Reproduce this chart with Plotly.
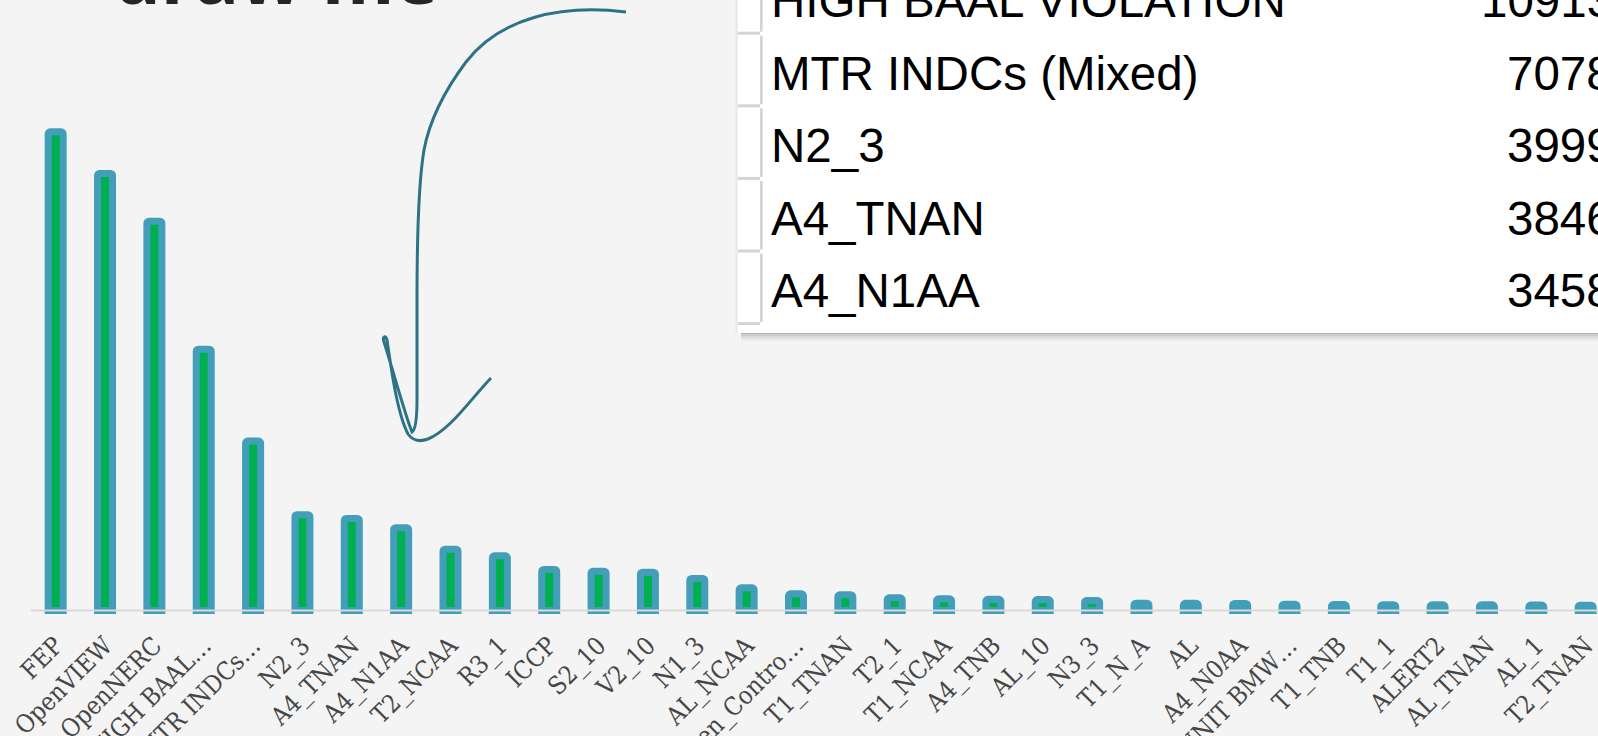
import plotly.graph_objects as go

# ---------------- data ----------------
categories = ["FEP", "OpenVIEW", "OpenNERC", "HIGH BAAL VIOLATION", "MTR INDCs (Mixed)",
              "N2_3", "A4_TNAN", "A4_N1AA", "T2_NCAA", "R3_1", "ICCP", "S2_10", "V2_10",
              "N1_3", "AL_NCAA", "Gen_Contro…", "T1_TNAN", "T2_1", "T1_NCAA", "A4_TNB",
              "AL_10", "N3_3", "T1_N_A", "AL", "A4_N0AA", "UNIT BMW…", "T1_TNB", "T1_1",
              "ALERT2", "AL_TNAN", "AL_1", "T2_TNAN"]
tick_labels = ["FEP", "OpenVIEW", "OpenNERC", "HIGH BAAL…", "MTR INDCs…",
               "N2_3", "A4_TNAN", "A4_N1AA", "T2_NCAA", "R3_1", "ICCP", "S2_10", "V2_10",
               "N1_3", "AL_NCAA", "Gen_Contro…", "T1_TNAN", "T2_1", "T1_NCAA", "A4_TNB",
               "AL_10", "N3_3", "T1_N_A", "AL", "A4_N0AA", "UNIT BMW…", "T1_TNB", "T1_1",
               "ALERT2", "AL_TNAN", "AL_1", "T2_TNAN"]
counts = [19996, 18254, 16262, 10913, 7078, 3999, 3846, 3458, 2561, 2285, 1713, 1642,
          1600, 1337, 948, 698, 656, 530, 489, 465, 455, 418, 305, 300, 292, 265, 250,
          240, 238, 235, 225, 220]

table_labels = ["HIGH BAAL VIOLATION", "MTR INDCs (Mixed)", "N2_3", "A4_TNAN", "A4_N1AA"]
table_values = ["10913", "7078", "3999", "3846", "3458"]

title_text = "draw me"

# ---------------- layout geometry (pixels) ----------------
W, H = 1598, 736
ML, MR, MT, MB = 31, 0, 10, 120
PW, PH = W - ML - MR, H - MT - MB
PX_PER_UNIT = 0.02394
BASE_PX = 610.5  # pixel row of value 0
y_top = (BASE_PX - MT) / PX_PER_UNIT
y_bot = -(H - MB - BASE_PX) / PX_PER_UNIT

BLUE = "#439FB9"
GREEN = "#00B050"
BG = "#f4f4f4"
ARROW = "#2E7385"


def px(x, y):
    return (x - ML) / PW, 1 - (y - MT) / PH


fig = go.Figure()
fig.add_trace(go.Bar(
    x=categories, y=counts, width=0.304,
    marker=dict(color=GREEN, line=dict(color=BLUE, width=7)),
    hoverinfo="x+y",
))

shapes = []
# axis line drawn above bars
shapes.append(dict(type="line", xref="paper", yref="y", x0=0, x1=1, y0=0, y1=0,
                   line=dict(color="#d9d9d9", width=2), layer="above"))

# table panel shadow + panel
for (y0, y1, op) in [(331, 334, 0.28), (334, 336.5, 0.16), (336.5, 339, 0.08), (339, 341, 0.03)]:
    a = px(741, y0); b = px(W + 5, y1)
    shapes.append(dict(type="rect", xref="paper", yref="paper", x0=a[0], x1=b[0], y0=a[1], y1=b[1],
                       fillcolor=f"rgba(0,0,0,{op})", line=dict(width=0), layer="above"))
a = px(735.5, 0); b = px(737.7, 333)
shapes.append(dict(type="rect", xref="paper", yref="paper", x0=a[0], x1=b[0], y0=a[1], y1=b[1],
                   fillcolor="rgba(0,0,0,0.05)", line=dict(width=0), layer="above"))
a = px(737.7, -5); b = px(W + 5, 333)
shapes.append(dict(type="rect", xref="paper", yref="paper", x0=a[0], x1=b[0], y0=a[1], y1=b[1],
                   fillcolor="#ffffff", line=dict(width=0), layer="above"))

# row header grid
ROW0 = 33.2
ROWH = 72.6
seps = [ROW0 + ROWH * i for i in range(5)]
prev = -5
for s in seps:
    a = px(760, prev + 2.5); b = px(762.7, s - 1.5)
    shapes.append(dict(type="rect", xref="paper", yref="paper", x0=a[0], x1=b[0], y0=a[1], y1=b[1],
                       fillcolor="#d4d4d4", line=dict(width=0), layer="above"))
    a = px(737.7, s - 1.5); b = px(760, s + 1.5)
    shapes.append(dict(type="rect", xref="paper", yref="paper", x0=a[0], x1=b[0], y0=a[1], y1=b[1],
                       fillcolor="#d4d4d4", line=dict(width=0), layer="above"))
    prev = s

# hand-drawn arrow
arrow_pts = [
    ("M", [(626, 12)]),
    ("C", [(560, 4), (500, 18), (466, 62)]),
    ("C", [(445, 90), (430, 118), (424, 150)]),
    ("C", [(418, 185), (417, 240), (417, 300)]),
    ("L", [(417, 400)]),
    ("C", [(417, 420), (415, 430), (412, 432)]),
    ("C", [(405, 415), (390, 360), (384, 342)]),
    ("C", [(382, 336), (386, 335), (387, 340)]),
    ("C", [(392, 375), (398, 415), (408, 434)]),
    ("C", [(413, 441), (420, 442), (428, 439)]),
    ("C", [(450, 430), (470, 400), (491, 378)]),
]
path = ""
for cmd, pts in arrow_pts:
    path += cmd + " " + " ".join("%.5f,%.5f" % px(x, y) for x, y in pts) + " "
shapes.append(dict(type="path", xref="paper", yref="paper", path=path.strip(),
                   line=dict(color=ARROW, width=3), layer="above"))

annotations = []
# partially visible heading
hx, hy = px(112, -25)
annotations.append(dict(text=title_text, xref="paper", yref="paper", x=hx, y=hy,
                        xanchor="left", yanchor="middle", showarrow=False,
                        font=dict(family="Open Sans", size=74, weight=700, color="#262626")))
# table text
for i, (lab, val) in enumerate(zip(table_labels, table_values)):
    baseline = 16.5 + ROWH * i
    cy = baseline - 16
    lx, ly = px(768.5, cy)
    annotations.append(dict(text=lab, xref="paper", yref="paper", x=lx, y=ly,
                            xanchor="left", yanchor="middle", showarrow=False,
                            font=dict(family="Liberation Sans", size=47.5, color="#000000")))
    vx, vy = px(1615, cy)
    annotations.append(dict(text=val, xref="paper", yref="paper", x=vx, y=vy,
                            xanchor="right", yanchor="middle", showarrow=False,
                            font=dict(family="Liberation Sans", size=47.5, color="#000000")))

fig.update_layout(
    template="none",
    width=W, height=H,
    margin=dict(l=ML, r=MR, t=MT, b=MB, pad=0),
    paper_bgcolor=BG, plot_bgcolor=BG,
    showlegend=False,
    barcornerradius=2,
    shapes=shapes,
    annotations=annotations,
    xaxis=dict(range=[-0.5, 31.25], tickmode="array", tickvals=categories, ticktext=tick_labels,
               tickangle=-45, showgrid=False, zeroline=False, showline=False, ticks="",
               automargin=False, ticklabelstandoff=9,
               tickfont=dict(family="DejaVu Serif Condensed, DejaVu Serif", size=25, color="#464646")),
    yaxis=dict(range=[y_bot, y_top], showgrid=False, zeroline=False, showline=False,
               showticklabels=False, ticks="", automargin=False),
)

fig.write_html("out.html", config={"displayModeBar": False},
               post_script="document.body.style.margin='0';document.body.style.background='#f4f4f4';")
